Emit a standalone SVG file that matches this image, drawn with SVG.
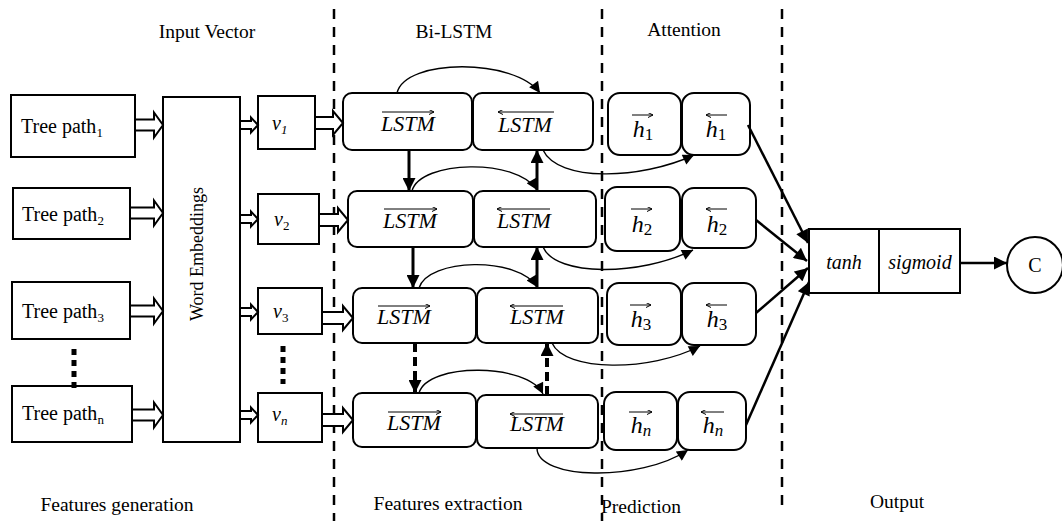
<svg xmlns="http://www.w3.org/2000/svg" width="1062" height="521" viewBox="0 0 1062 521">
<style>
.box{fill:#fff;stroke:#000;stroke-width:2}
.rbox{fill:#fff;stroke:#000;stroke-width:2}
.hollow{fill:#fff;stroke:#000;stroke-width:2;stroke-linejoin:miter}
.sep{stroke:#000;stroke-width:2.5;stroke-dasharray:10 8;fill:none}
.dots{stroke:#000;stroke-width:5;stroke-dasharray:6 5;fill:none}
.thick{stroke:#000;stroke-width:3;fill:none}
.thickd{stroke:#000;stroke-width:4;stroke-dasharray:9 5;fill:none}
.curve{stroke:#000;stroke-width:1.4;fill:none}
.conv{stroke:#000;stroke-width:2.5;fill:none}
.ov{stroke:#000;stroke-width:1;fill:none}
text{font-family:'Liberation Serif','DejaVu Serif','Times New Roman',serif;fill:#000}
.lab{font-size:19.5px;text-anchor:middle}
.it{font-style:italic}
.m{font-style:italic;text-anchor:middle}
</style>
<defs>
<marker id="ah" viewBox="0 0 10 10" refX="10" refY="5" markerWidth="14" markerHeight="13" markerUnits="userSpaceOnUse" orient="auto"><path d="M0,0 L10,5 L0,10 z" fill="#000"/></marker>
<marker id="ahs" viewBox="0 0 10 10" refX="10" refY="5" markerWidth="14" markerHeight="11" markerUnits="userSpaceOnUse" orient="auto"><path d="M0,0 L10,5 L0,10 z" fill="#000"/></marker>
<marker id="oa" viewBox="0 0 10 10" refX="10" refY="5" markerWidth="5" markerHeight="5" markerUnits="userSpaceOnUse" orient="auto-start-reverse"><path d="M0,0 L10,5 L0,10" fill="none" stroke="#000" stroke-width="2"/></marker>
</defs>

<g id="separators">
<line class="sep" x1="334" y1="9" x2="334" y2="521"/>
<line class="sep" x1="602" y1="9" x2="602" y2="521"/>
<line class="sep" x1="782" y1="9" x2="782" y2="512"/>
</g>

<g id="headers">
<text class="lab" x="207" y="38">Input Vector</text>
<text class="lab" x="454" y="38">Bi-LSTM</text>
<text class="lab" x="684" y="36">Attention</text>
<text class="lab" x="117" y="511">Features generation</text>
<text class="lab" x="448" y="510">Features extraction</text>
<text class="lab" x="641" y="513">Prediction</text>
<text class="lab" x="897" y="508">Output</text>
</g>

<g id="tree1"><rect class="box" x="11" y="95" width="124" height="62"/><text x="21" y="133" font-size="20">Tree path<tspan font-size="13" dy="4">1</tspan></text></g>
<g id="tree2"><rect class="box" x="13" y="188" width="117" height="51"/><text x="22" y="221" font-size="20">Tree path<tspan font-size="13" dy="4">2</tspan></text></g>
<g id="tree3"><rect class="box" x="12" y="282" width="118" height="57"/><text x="22" y="318" font-size="20">Tree path<tspan font-size="13" dy="4">3</tspan></text></g>
<g id="treen"><rect class="box" x="12" y="386" width="120" height="56"/><text x="22" y="420" font-size="20">Tree path<tspan font-size="13" dy="4">n</tspan></text></g>

<g id="embeddings"><rect class="box" x="163" y="97" width="77" height="345"/><text transform="translate(203,254) rotate(-90)" text-anchor="middle" font-size="18">Word Embeddings</text></g>

<g id="v1"><rect class="box" x="258" y="96" width="57" height="53"/><text class="it" x="272" y="130" font-size="20">v<tspan font-size="13" dy="4">1</tspan></text></g>
<g id="v2"><rect class="box" x="258" y="194" width="61" height="50"/><text class="it" x="274" y="226" font-size="20">v<tspan font-size="13" dy="4" font-style="normal">2</tspan></text></g>
<g id="v3"><rect class="box" x="258" y="288" width="64" height="46"/><text class="it" x="273" y="318" font-size="20">v<tspan font-size="13" dy="4" font-style="normal">3</tspan></text></g>
<g id="vn"><rect class="box" x="258" y="393" width="64" height="49"/><text class="it" x="272" y="421" font-size="20">v<tspan font-size="13" dy="4">n</tspan></text></g>

<g id="lstm1f"><rect class="rbox" x="343" y="93" width="129" height="57" rx="9"/><text class="m" x="408" y="131" font-size="22">LSTM</text><line class="ov" x1="382" y1="112" x2="434" y2="112" marker-end="url(#oa)"/></g>
<g id="lstm1b"><rect class="rbox" x="473" y="93" width="120" height="57" rx="9"/><text class="m" x="525" y="132" font-size="22">LSTM</text><line class="ov" x1="498" y1="112" x2="554" y2="112" marker-start="url(#oa)"/></g>
<g id="lstm2f"><rect class="rbox" x="348" y="191" width="125" height="56" rx="9"/><text class="m" x="410" y="228" font-size="22">LSTM</text><line class="ov" x1="384" y1="209" x2="437" y2="209" marker-end="url(#oa)"/></g>
<g id="lstm2b"><rect class="rbox" x="474" y="191" width="122" height="56" rx="9"/><text class="m" x="524" y="228" font-size="22">LSTM</text><line class="ov" x1="497" y1="209" x2="550" y2="209" marker-start="url(#oa)"/></g>
<g id="lstm3f"><rect class="rbox" x="353" y="288" width="123" height="55" rx="9"/><text class="m" x="404" y="324" font-size="22">LSTM</text><line class="ov" x1="378" y1="306" x2="430" y2="306" marker-end="url(#oa)"/></g>
<g id="lstm3b"><rect class="rbox" x="477" y="288" width="121" height="55" rx="9"/><text class="m" x="537" y="324" font-size="22">LSTM</text><line class="ov" x1="510" y1="306" x2="563" y2="306" marker-start="url(#oa)"/></g>
<g id="lstm4f"><rect class="rbox" x="353" y="393" width="123" height="54" rx="9"/><text class="m" x="414" y="430" font-size="22">LSTM</text><line class="ov" x1="388" y1="412" x2="441" y2="412" marker-end="url(#oa)"/></g>
<g id="lstm4b"><rect class="rbox" x="477" y="395" width="121" height="53" rx="9"/><text class="m" x="537" y="431" font-size="22">LSTM</text><line class="ov" x1="510" y1="414" x2="563" y2="414" marker-start="url(#oa)"/></g>

<g id="h1f"><rect class="rbox" x="608" y="93" width="73" height="62" rx="12"/><text class="m" x="643" y="137" font-size="24">h<tspan font-style="normal" font-size="17" dy="3">1</tspan></text><line class="ov" x1="632" y1="115" x2="653" y2="115" marker-end="url(#oa)"/></g>
<g id="h1b"><rect class="rbox" x="682" y="93" width="68" height="62" rx="12"/><text class="m" x="716" y="137" font-size="24">h<tspan font-style="normal" font-size="17" dy="3">1</tspan></text><line class="ov" x1="706" y1="115" x2="727" y2="115" marker-start="url(#oa)"/></g>
<g id="h2f"><rect class="rbox" x="605" y="187" width="75" height="64" rx="12"/><text class="m" x="642" y="232" font-size="24">h<tspan font-style="normal" font-size="17" dy="3">2</tspan></text><line class="ov" x1="631" y1="209" x2="652" y2="209" marker-end="url(#oa)"/></g>
<g id="h2b"><rect class="rbox" x="682" y="188" width="74" height="60" rx="12"/><text class="m" x="717" y="232" font-size="24">h<tspan font-style="normal" font-size="17" dy="3">2</tspan></text><line class="ov" x1="706" y1="209" x2="727" y2="209" marker-start="url(#oa)"/></g>
<g id="h3f"><rect class="rbox" x="607" y="283" width="74" height="62" rx="12"/><text class="m" x="641" y="327" font-size="24">h<tspan font-style="normal" font-size="17" dy="3">3</tspan></text><line class="ov" x1="630" y1="305" x2="651" y2="305" marker-end="url(#oa)"/></g>
<g id="h3b"><rect class="rbox" x="682" y="283" width="74" height="62" rx="12"/><text class="m" x="717" y="327" font-size="24">h<tspan font-style="normal" font-size="17" dy="3">3</tspan></text><line class="ov" x1="706" y1="305" x2="727" y2="305" marker-start="url(#oa)"/></g>
<g id="hnf"><rect class="rbox" x="604" y="392" width="73" height="58" rx="12"/><text class="m" x="641" y="433" font-size="24">h<tspan font-size="17" dy="3">n</tspan></text><line class="ov" x1="629" y1="412" x2="652" y2="412" marker-end="url(#oa)"/></g>
<g id="hnb"><rect class="rbox" x="678" y="392" width="68" height="58" rx="12"/><text class="m" x="713" y="433" font-size="24">h<tspan font-size="17" dy="3">n</tspan></text><line class="ov" x1="701" y1="412" x2="724" y2="412" marker-start="url(#oa)"/></g>

<g id="tanh"><rect class="box" x="809" y="229" width="70" height="64"/><text class="it" x="844" y="269" font-size="20" text-anchor="middle">tanh</text></g>
<g id="sigmoid"><rect class="box" x="879" y="229" width="81" height="64"/><text class="it" x="920" y="269" font-size="20" text-anchor="middle">sigmoid</text></g>
<g id="output"><circle cx="1035" cy="265" r="28" fill="#fff" stroke="#000" stroke-width="2"/><text x="1035" y="272" font-size="20" text-anchor="middle">C</text></g>

<g id="connectors">
<polygon class="hollow" points="135,119.5 154,119.5 154,112.5 163,125 154,137.5 154,130.5 135,130.5"/>
<polygon class="hollow" points="130,207.5 154,207.5 154,200.5 163,213 154,225.5 154,218.5 130,218.5"/>
<polygon class="hollow" points="130,305.5 154,305.5 154,298.5 163,311 154,323.5 154,316.5 130,316.5"/>
<polygon class="hollow" points="132,409.5 154,409.5 154,402.5 163,415 154,427.5 154,420.5 132,420.5"/>
<polygon class="hollow" points="240,121 251,121 251,117.5 258,125 251,132.5 251,129 240,129"/>
<polygon class="hollow" points="240,215 251,215 251,211.5 258,219 251,226.5 251,223 240,223"/>
<polygon class="hollow" points="240,308 251,308 251,304.5 258,312 251,319.5 251,316 240,316"/>
<polygon class="hollow" points="240,411 251,411 251,407.5 258,415 251,422.5 251,419 240,419"/>
<polygon class="hollow" points="315,117 333,117 333,111 343,123 333,135 333,129 315,129"/>
<polygon class="hollow" points="319,214 338,214 338,208 348,220 338,232 338,226 319,226"/>
<polygon class="hollow" points="322,312 343,312 343,306 353,318 343,330 343,324 322,324"/>
<polygon class="hollow" points="322,414 343,414 343,408 353,420 343,432 343,426 322,426"/>
<line class="dots" x1="74" y1="349" x2="74" y2="388"/>
<line class="dots" x1="283" y1="346" x2="283" y2="384"/>
<line class="thick" x1="409" y1="150" x2="409" y2="191" marker-end="url(#ah)"/>
<line class="thick" x1="537" y1="191" x2="537" y2="150" marker-end="url(#ah)"/>
<line class="thick" x1="413" y1="247" x2="413" y2="288" marker-end="url(#ah)"/>
<line class="thick" x1="537" y1="288" x2="537" y2="247" marker-end="url(#ah)"/>
<line class="thickd" x1="415" y1="343" x2="415" y2="393" marker-end="url(#ah)"/>
<line class="thickd" x1="547" y1="395" x2="547" y2="343" marker-end="url(#ah)"/>
<path class="curve" d="M397,93 C405,58 515,58 540,93" marker-end="url(#ahs)"/>
<path class="curve" d="M412,191 C420,160 518,158 537,190" marker-end="url(#ahs)"/>
<path class="curve" d="M419,288 C428,258 518,256 537,287" marker-end="url(#ahs)"/>
<path class="curve" d="M419,393 C428,362 528,363 543,394" marker-end="url(#ahs)"/>
<path class="curve" d="M543,150 C558,182 640,180 694,155" marker-end="url(#ahs)"/>
<path class="curve" d="M543,247 C556,277 640,276 693,250" marker-end="url(#ahs)"/>
<path class="curve" d="M552,343 C565,372 650,372 700,346" marker-end="url(#ahs)"/>
<path class="curve" d="M537,448 C537,480 640,482 688,450" marker-end="url(#ahs)"/>
<line class="conv" x1="748" y1="125" x2="808" y2="243" marker-end="url(#ah)"/>
<line class="conv" x1="756" y1="220" x2="807" y2="261" marker-end="url(#ah)"/>
<line class="conv" x1="756" y1="313" x2="808" y2="268" marker-end="url(#ah)"/>
<line class="conv" x1="746" y1="425" x2="809" y2="282" marker-end="url(#ah)"/>
<line class="conv" x1="960" y1="263" x2="1007" y2="263" marker-end="url(#ah)"/>
</g>
</svg>
